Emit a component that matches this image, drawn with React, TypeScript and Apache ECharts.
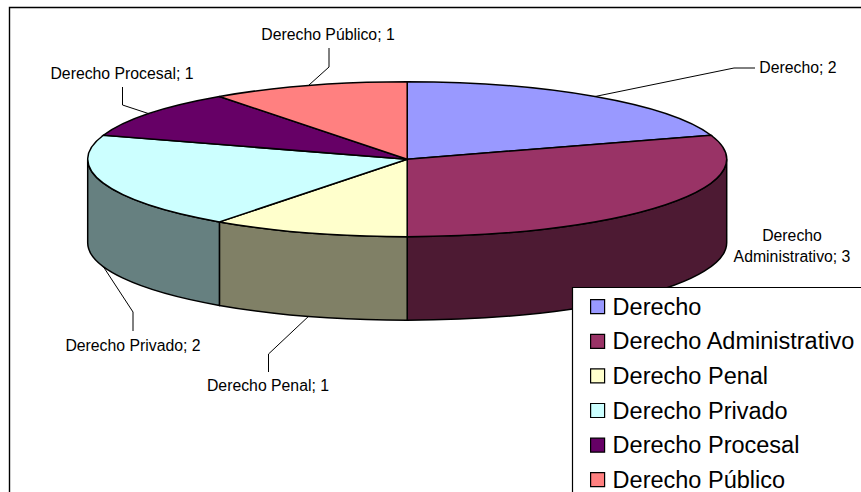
import React, { useEffect, useRef } from "react";
import * as echarts from "echarts";

const categories = ["Derecho", "Derecho Administrativo", "Derecho Penal", "Derecho Privado", "Derecho Procesal", "Derecho Público"];
const values = [2, 3, 1, 2, 1, 1];
const topColors = ["#9999FF", "#993366", "#FFFFCC", "#CCFFFF", "#660066", "#FF8080"];
const sideColors = ["#4C4C80", "#4D1A33", "#808066", "#668080", "#330033", "#804040"];

const CX = 407.2, CY = 159.2, RX = 319.5, RY = 77.5, DEPTH = 83.5;
const FONT = "'Liberation Sans', Arial, sans-serif";
const LABEL_SIZE = 15.8;

// label centre, leader bend points (from label towards the pie); the leader ends on the slice's mid-angle rim
type LabelLayout = { x: number; y: number; lines?: string[]; bends: number[][]; onBase?: boolean };
const labelLayouts: LabelLayout[] = [
  { x: 798, y: 67, bends: [[755, 68], [734, 68]] },
  { x: 792, y: 246, lines: ["Derecho", "Administrativo; 3"], bends: [] },
  { x: 268, y: 385, bends: [[268.5, 372], [268.5, 354]], onBase: true },
  { x: 133, y: 345, bends: [[133, 331], [133, 312]], onBase: true },
  { x: 122, y: 73, bends: [[122.5, 87], [122.5, 105]] },
  { x: 328, y: 34, bends: [[329, 48], [329, 67]] },
];

const total = values.reduce((a, b) => a + b, 0);
const deg = (v: number) => (v / total) * 2 * Math.PI;
const starts = values.map((_, i) => deg(values.slice(0, i).reduce((a, b) => a + b, 0)));
const pt = (a: number, dy = 0) => [CX + RX * Math.sin(a), CY - RY * Math.cos(a) + dy];

function sidePath(a0: number, a1: number) {
  const lo = Math.max(a0, Math.PI / 2);
  const hi = Math.min(a1, (3 * Math.PI) / 2);
  if (hi <= lo) return null;
  const [x0, y0] = pt(lo);
  const [x1, y1] = pt(hi);
  const [x2, y2] = pt(hi, DEPTH);
  const [x3, y3] = pt(lo, DEPTH);
  return `M${x0} ${y0}A${RX} ${RY} 0 0 1 ${x1} ${y1}L${x2} ${y2}A${RX} ${RY} 0 0 0 ${x3} ${y3}Z`;
}

function topPath(a0: number, a1: number) {
  const [x0, y0] = pt(a0);
  const [x1, y1] = pt(a1);
  const large = a1 - a0 > Math.PI ? 1 : 0;
  return `M${CX} ${CY}L${x0} ${y0}A${RX} ${RY} 0 ${large} 1 ${x1} ${y1}Z`;
}

export default function App() {
  const ref = useRef<HTMLDivElement>(null);
  useEffect(() => {
    document.body.style.margin = "0";
    const chart = echarts.init(ref.current!, undefined, { renderer: "svg" });
    const series = categories.map((name, i) => ({
      type: "custom",
      name,
      coordinateSystem: "none",
      silent: true,
      z: 2,
      itemStyle: { color: topColors[i] },
      data: [values[i]],
      renderItem: (_params: any, api: any) => {
        const a0 = starts[i];
        const a1 = a0 + deg(api.value(0));
        const children: any[] = [];
        const side = sidePath(a0, a1);
        if (side) {
          children.push({
            type: "path",
            shape: { pathData: side },
            style: { fill: sideColors[i], stroke: "#000", lineWidth: 1.5 },
          });
        }
        children.push({
          type: "path",
          shape: { pathData: topPath(a0, a1) },
          style: { fill: topColors[i], stroke: "#000", lineWidth: 1.5 },
        });
        const layout = labelLayouts[i];
        if (layout.bends.length) {
          const mid = (a0 + a1) / 2;
          children.push({
            type: "polyline",
            shape: { points: [...layout.bends, pt(mid, layout.onBase ? DEPTH : 0)] },
            style: { fill: "none", stroke: "#000", lineWidth: 1 },
          });
        }
        children.push({
          type: "text",
          style: {
            x: layout.x,
            y: layout.y,
            text: layout.lines ? layout.lines.join("\n") : `${name}; ${api.value(0)}`,
            textAlign: "center",
            textVerticalAlign: "middle",
            verticalAlign: "middle",
            lineHeight: 21,
            fontFamily: FONT,
            fontSize: LABEL_SIZE,
            fill: "#000",
          },
        });
        return { type: "group", children };
      },
    }));
    chart.setOption({
      animation: false,
      backgroundColor: "#fff",
      graphic: [
        {
          type: "rect",
          z: 1,
          shape: { x: 9.5, y: 7.5, width: 900, height: 600 },
          style: { fill: "#fff", stroke: "#000", lineWidth: 1.4 },
        },
        {
          type: "rect",
          z: 10,
          shape: { x: 572.5, y: 287.5, width: 400, height: 300 },
          style: { fill: "#fff", stroke: "#000", lineWidth: 1.2 },
        },
      ],
      legend: {
        z: 20,
        orient: "vertical",
        left: 590,
        top: 294.7,
        width: 300,
        height: 300,
        padding: 0,
        selectedMode: false,
        icon: "rect",
        itemWidth: 14,
        itemHeight: 14,
        itemGap: 10.6,
        data: categories,
        itemStyle: { borderColor: "#000", borderWidth: 1.2 },
        textStyle: { color: "#000", fontFamily: FONT, fontSize: 23.5, lineHeight: 24, padding: [0, 0, 0, 3] },
      },
      series,
    });
    return () => chart.dispose();
  }, []);
  return <div ref={ref} style={{ width: 861, height: 492, position: "absolute", left: 0, top: 0 }} />;
}
